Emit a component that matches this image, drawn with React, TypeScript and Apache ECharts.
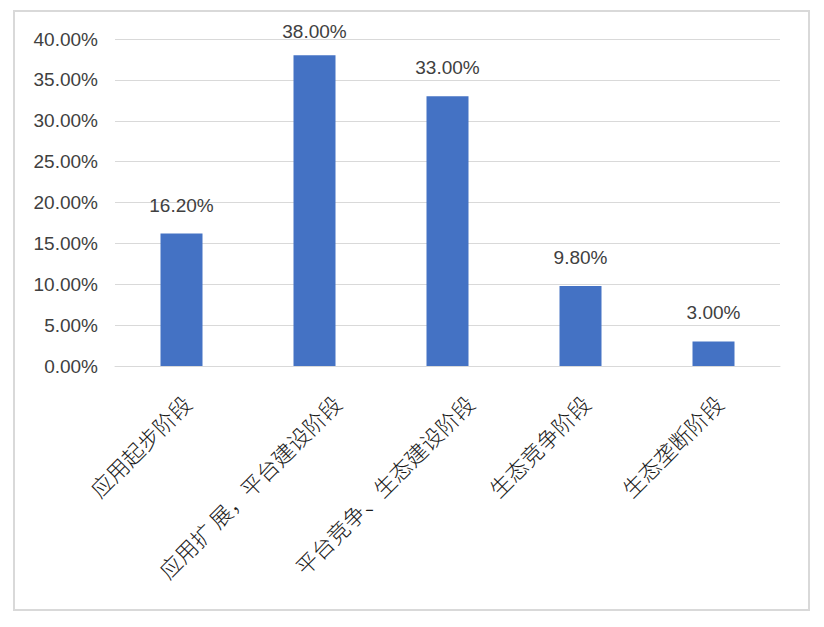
import React, { useEffect, useRef } from "react";
import * as echarts from "echarts";

const categories = [
  "应用起步阶段",
  "应用扩 展，平台建设阶段",
  "平台竞争、生态建设阶段",
  "生态竞争阶段",
  "生态垄断阶段",
];
const values = [16.2, 38.0, 33.0, 9.8, 3.0];
const yMin = 0;
const yMax = 40;
const yStep = 5;

export default function App() {
  const ref = useRef<HTMLDivElement>(null);
  useEffect(() => {
    document.body.style.margin = "0";
    const chart = echarts.init(ref.current!, undefined, { renderer: "svg" });
    const catStyle = {
      fontSize: 22,
      color: "#1a1a1a",
      fontFamily: "Noto Sans CJK SC",
      fontWeight: 300,
    };
    const barData = values.map((v) => ({
      value: v,
      label: { distance: v > 35 ? 14 : 19 },
    }));
    chart.setOption({
      animation: false,
      backgroundColor: "#ffffff",
      graphic: [
        {
          type: "rect",
          shape: { x: 14, y: 11, width: 795, height: 599 },
          style: { fill: "none", stroke: "#d9d9d9", lineWidth: 2 },
          silent: true,
        },
      ],
      grid: { left: 115, right: 44, top: 39, bottom: 261 },
      xAxis: {
        type: "category",
        data: categories,
        axisLine: { lineStyle: { color: "#d9d9d9", width: 1 } },
        axisTick: { show: false },
        axisLabel: {
          rotate: 45,
          interval: 0,
          margin: 11,
          ...catStyle,
          formatter: (v: string) => (v.length > 8 ? `{l|${v}}` : `{s|${v}}`),
          rich: {
            l: { ...catStyle, padding: [62, 0, 0, 0] },
            s: { ...catStyle, padding: [38, 12, 0, 0] },
          },
        },
      },
      yAxis: {
        type: "value",
        min: yMin,
        max: yMax,
        interval: yStep,
        axisLine: { show: false },
        axisTick: { show: false },
        splitLine: { lineStyle: { color: "#d9d9d9", width: 1 } },
        axisLabel: {
          margin: 17,
          fontSize: 19,
          color: "#404040",
          fontFamily: "Liberation Sans",
          formatter: (v: number) => v.toFixed(2) + "%",
        },
      },
      series: [
        {
          type: "bar",
          data: barData,
          barWidth: 42,
          itemStyle: { color: "#4472c4" },
          label: {
            show: true,
            position: "top",
            fontSize: 19,
            color: "#404040",
            fontFamily: "Liberation Sans",
            formatter: (p: any) => Number(p.value).toFixed(2) + "%",
          },
        },
      ],
    });
    return () => chart.dispose();
  }, []);
  return <div ref={ref} style={{ width: 824, height: 627 }} />;
}
